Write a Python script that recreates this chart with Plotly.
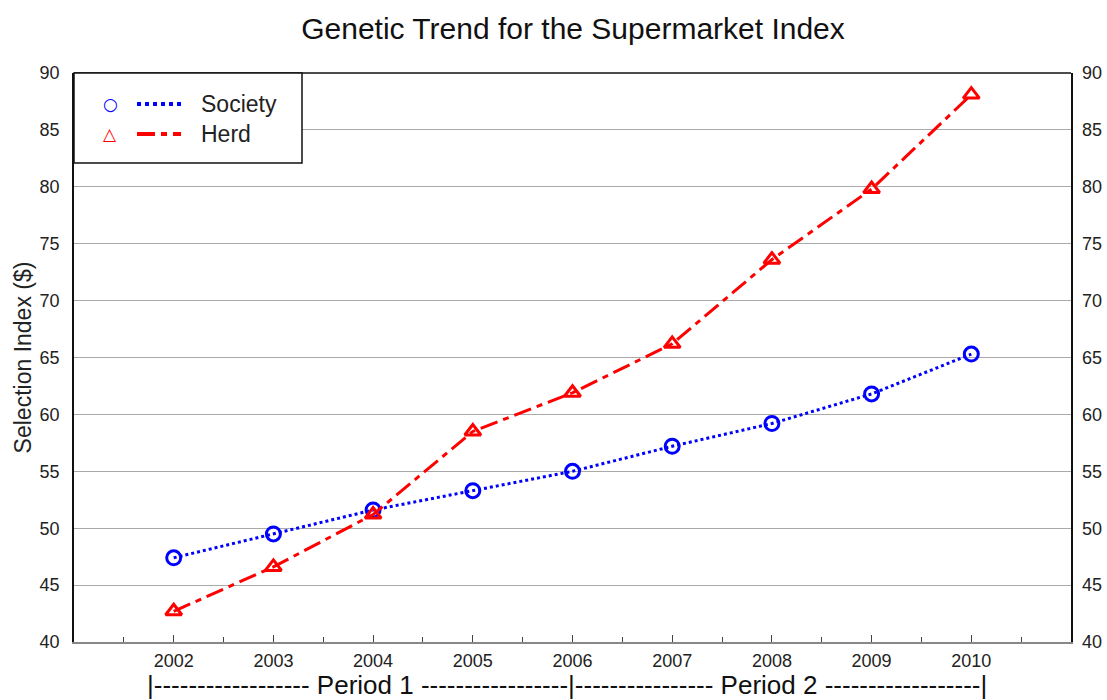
import plotly.graph_objects as go

years = [2002, 2003, 2004, 2005, 2006, 2007, 2008, 2009, 2010]
society = [47.4, 49.5, 51.6, 53.3, 55.0, 57.2, 59.2, 61.8, 65.3]
herd = [42.7, 46.6, 51.2, 58.5, 61.9, 66.2, 73.6, 79.8, 88.1]
yticks = [40, 45, 50, 55, 60, 65, 70, 75, 80, 85, 90]
title = "Genetic Trend for the Supermarket Index"
ytitle = "Selection Index ($)"
period_text = ("|------------------ Period 1 -----------------|"
               "---------------- Period 2 ------------------|")

FONT = "Liberation Sans, Arial, sans-serif"
BLUE = "#0000ff"
RED = "#ff0000"
HERD_DASH = "18px,6px,6px,6px"

W, H = 1107, 700
L, T, R, B = 74, 73, 36, 58
PW = W - L - R
PH = H - T - B


def px(xs):  # pixel x -> paper x
    return (xs - L) / PW


def py(ys):  # pixel y -> paper y
    return (H - B - ys) / PH


fig = go.Figure()
fig.add_trace(go.Scatter(
    x=years, y=society, mode="lines+markers", name="Society",
    line=dict(color=BLUE, width=3, dash="dot"),
    marker=dict(symbol="circle-open", size=14, color=BLUE, line=dict(width=3, color=BLUE)),
    showlegend=False))
fig.add_trace(go.Scatter(
    x=years, y=herd, mode="lines+markers", name="Herd",
    line=dict(color=RED, width=3, dash=HERD_DASH),
    marker=dict(symbol="triangle-up-open", size=14, color=RED, line=dict(width=3, color=RED)),
    showlegend=False))
# invisible trace for right axis
fig.add_trace(go.Scatter(x=[years[0]], y=[society[0]], yaxis="y2", mode="markers",
                         marker=dict(opacity=0), showlegend=False, hoverinfo="skip"))

fig.update_layout(
    width=W, height=H,
    margin=dict(l=L, r=R, t=T, b=B, autoexpand=False),
    paper_bgcolor="white", plot_bgcolor="white",
    font=dict(family=FONT, color="#222", size=17),
    title=dict(text=title, x=573 / W, xanchor="center", y=1 - 28 / H, yanchor="middle",
               font=dict(size=30, color="#111", family=FONT)),
    xaxis=dict(range=[2001, 2011], tickvals=years, ticktext=[str(y) for y in years],
               automargin=False,
               ticks="inside", ticklen=7, tickcolor="#444", tickwidth=1, ticklabelstandoff=2,
               minor=dict(ticks="inside", tickvals=[y + 0.5 for y in [2001] + years], ticklen=5, tickcolor="#444"),
               showgrid=False, zeroline=False, showline=True, linecolor="#888", linewidth=1.5,
               tickfont=dict(size=18, color="#222")),
    yaxis=dict(range=[40, 90], tickvals=yticks, showgrid=True, gridcolor="#aaaaaa", gridwidth=1,
               automargin=False,
               zeroline=False, showline=True, linecolor="#111", linewidth=1.5, mirror=True,
               ticks="", ticklabelstandoff=9, tickfont=dict(size=18, color="#222"),
               title=dict(text=ytitle, font=dict(size=23, color="#222"), standoff=2)),
    yaxis2=dict(range=[40, 90], tickvals=yticks, overlaying="y", side="right",
                automargin=False,
                showgrid=False, zeroline=False, showline=False, ticks="", ticklabelstandoff=10,
                tickfont=dict(size=18, color="#222")),
)

# top border
fig.add_shape(type="line", xref="paper", yref="paper", x0=0, x1=1, y0=1, y1=1,
              line=dict(color="#111", width=1.5))

# custom legend
fig.add_shape(type="rect", xref="paper", yref="paper", x0=0, x1=px(302), y0=py(163), y1=1,
              line=dict(color="#111", width=1.5), fillcolor="white")
rows = [("Society", BLUE, "dot", "○", py(104)),
        ("Herd", RED, HERD_DASH, "△", py(134))]
for name, col, dash, sym, yy in rows:
    fig.add_annotation(xref="paper", yref="paper", x=px(110), y=yy, text=sym,
                       xanchor="center", yanchor="middle",
                       showarrow=False, font=dict(size=17, color=col, family="DejaVu Sans"))
    fig.add_shape(type="line", xref="paper", yref="paper", x0=px(137), x1=px(181),
                  y0=yy, y1=yy, line=dict(color=col, width=4, dash=dash))
    fig.add_annotation(xref="paper", yref="paper", x=px(199), y=yy, text=name,
                       xanchor="left", yanchor="middle", showarrow=False,
                       font=dict(size=23, color="#222", family=FONT))

# period annotation
fig.add_annotation(xref="paper", yref="paper", x=px(567), y=0, yshift=-43,
                   text=period_text, showarrow=False, xanchor="center", yanchor="middle",
                   font=dict(size=26, color="#111", family=FONT))

fig.write_html("out.html", config={"displayModeBar": False},
               post_script="document.body.style.margin='0';document.body.style.overflow='hidden';")
